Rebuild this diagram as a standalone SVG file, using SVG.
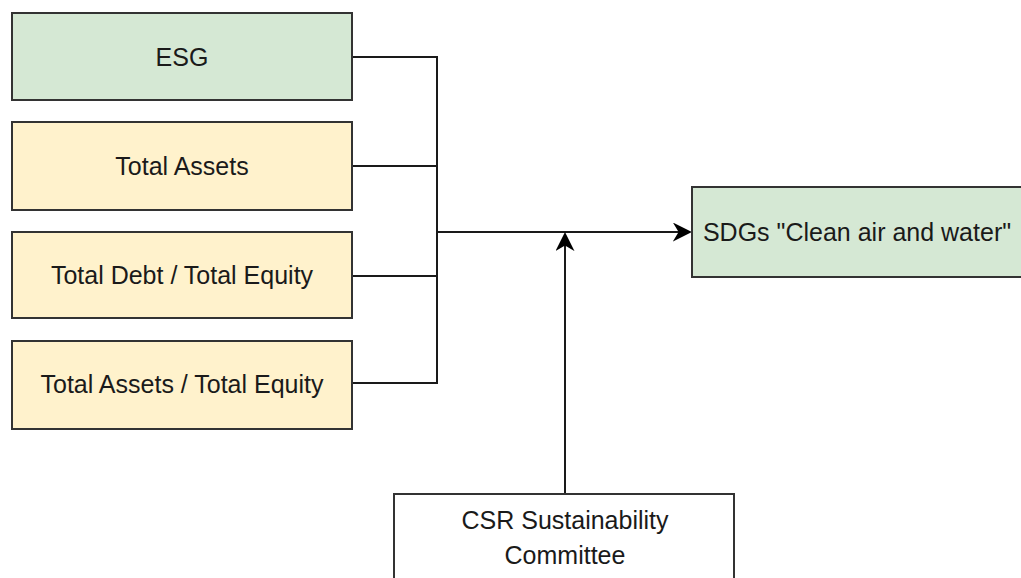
<svg xmlns="http://www.w3.org/2000/svg" width="1021" height="578" viewBox="0 0 1021 578">
<defs>
<style>
.box{stroke:#333;stroke-width:2}
.g{fill:#d5e8d4}
.y{fill:#fff2cc}
.w{fill:#fff}
.t{font-family:"Liberation Sans",Arial,sans-serif;font-size:25px;fill:#1a1a1a;text-anchor:middle}
.c{fill:none;stroke:#1a1a1a;stroke-width:2}
</style>
<marker id="ah2" viewBox="0 0 10 10" refX="9" refY="5" markerWidth="19" markerHeight="19" markerUnits="userSpaceOnUse" orient="auto">
<path d="M0,0 L10,5 L0,10 L3,5 Z" fill="#000"/>
</marker>
</defs>
<rect width="1021" height="578" fill="#fff"/>
<g id="connectors">
<path class="c" d="M352,57 H437 V383 H352"/>
<path class="c" d="M352,166 H437"/>
<path class="c" d="M352,276 H437"/>
<path class="c" d="M437,232 H690" marker-end="url(#ah2)"/>
<path class="c" d="M565,494 V234" marker-end="url(#ah2)"/>
</g>
<g id="esg"><rect class="box g" x="12" y="13" width="340" height="87"/><text class="t" x="182" y="66">ESG</text></g>
<g id="total-assets"><rect class="box y" x="12" y="122" width="340" height="88"/><text class="t" x="182" y="175">Total Assets</text></g>
<g id="debt-equity"><rect class="box y" x="12" y="232" width="340" height="86"/><text class="t" x="182" y="284">Total Debt / Total Equity</text></g>
<g id="assets-equity"><rect class="box y" x="12" y="341" width="340" height="88"/><text class="t" x="182" y="393">Total Assets / Total Equity</text></g>
<g id="sdgs"><rect class="box g" x="692" y="187" width="340" height="90"/><text class="t" x="857" y="241">SDGs "Clean air and water"</text></g>
<g id="csr"><rect class="box w" x="394" y="494" width="340" height="100"/><text class="t" x="565" y="529">CSR Sustainability</text><text class="t" x="565" y="564">Committee</text></g>
</svg>
